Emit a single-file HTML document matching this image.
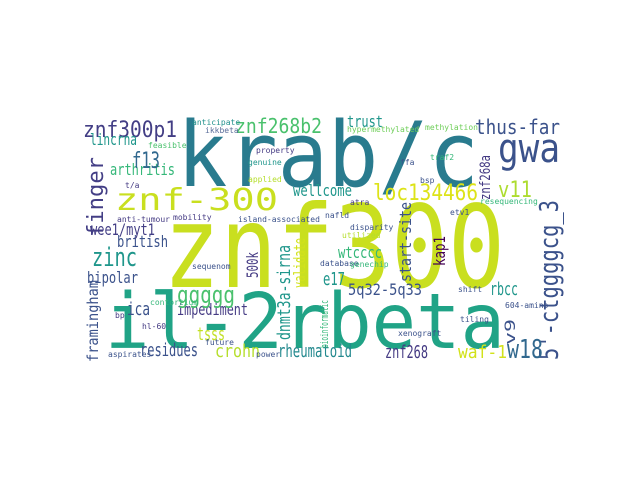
<!DOCTYPE html>
<html><head><meta charset="utf-8"><style>
html,body{margin:0;padding:0;background:#fff;width:640px;height:480px;overflow:hidden}
svg text{font-family:"DejaVu Sans Mono","Liberation Mono",monospace}
</style></head><body>
<svg width="640" height="480" viewBox="0 0 640 480" xmlns="http://www.w3.org/2000/svg">
<rect width="640" height="480" fill="#fff"/>
<g>
<text x="177" y="186" font-size="90" fill="#297b8e" textLength="302" lengthAdjust="spacingAndGlyphs">krab/c</text>
<text x="163" y="287" font-size="114" fill="#c9df1f" textLength="342" lengthAdjust="spacingAndGlyphs">znf300</text>
<text x="105" y="348" font-size="77" fill="#20a386" textLength="400" lengthAdjust="spacingAndGlyphs">il-2rbeta</text>
<text x="115" y="210" font-size="30" fill="#c9df1f" textLength="163" lengthAdjust="spacingAndGlyphs">znf-300</text>
<text x="498" y="162" font-size="40" fill="#3b528b" textLength="62" lengthAdjust="spacingAndGlyphs">gwa</text>
<text x="475" y="134" font-size="20" fill="#3b528b" textLength="85" lengthAdjust="spacingAndGlyphs">thus-far</text>
<text x="83" y="137" font-size="22" fill="#433e85" textLength="94" lengthAdjust="spacingAndGlyphs">znf300p1</text>
<text x="235" y="133" font-size="20" fill="#4ac16d" textLength="87" lengthAdjust="spacingAndGlyphs">znf268b2</text>
<text x="373" y="200" font-size="22" fill="#dde318" textLength="105" lengthAdjust="spacingAndGlyphs">loc134466</text>
<text x="498" y="197" font-size="22" fill="#addc30" textLength="34" lengthAdjust="spacingAndGlyphs">v11</text>
<text transform="translate(558,360) rotate(-90)" font-size="26" fill="#3b528b" textLength="160" lengthAdjust="spacingAndGlyphs">5'-ctggggcg_3</text>
<text x="507" y="358" font-size="26" fill="#31688e" textLength="36" lengthAdjust="spacingAndGlyphs">w18</text>
<text x="458" y="358" font-size="18" fill="#d2e21b" textLength="49" lengthAdjust="spacingAndGlyphs">waf-1</text>
<text x="385" y="358" font-size="18" fill="#443a83" textLength="43" lengthAdjust="spacingAndGlyphs">znf268</text>
<text x="278" y="357" font-size="18" fill="#23898e" textLength="74" lengthAdjust="spacingAndGlyphs">rheumatoid</text>
<text x="215" y="357" font-size="18" fill="#b5de2b" textLength="45" lengthAdjust="spacingAndGlyphs">crohn</text>
<text x="140" y="356" font-size="18" fill="#3b528b" textLength="58" lengthAdjust="spacingAndGlyphs">residues</text>
<text x="197" y="340" font-size="18" fill="#c2df23" textLength="28" lengthAdjust="spacingAndGlyphs">tsss</text>
<text x="177" y="315" font-size="16" fill="#443a83" textLength="71" lengthAdjust="spacingAndGlyphs">impediment</text>
<text x="177" y="303" font-size="24" fill="#4ac16d" textLength="58" lengthAdjust="spacingAndGlyphs">ggggg</text>
<text x="127" y="315" font-size="18" fill="#3b528b" textLength="23" lengthAdjust="spacingAndGlyphs">ica</text>
<text x="87" y="283" font-size="16" fill="#3b528b" textLength="51" lengthAdjust="spacingAndGlyphs">bipolar</text>
<text x="92" y="266" font-size="26" fill="#1f968b" textLength="45" lengthAdjust="spacingAndGlyphs">zinc</text>
<text x="117" y="247" font-size="16" fill="#3b528b" textLength="51" lengthAdjust="spacingAndGlyphs">british</text>
<text x="90" y="235" font-size="16" fill="#433e85" textLength="65" lengthAdjust="spacingAndGlyphs">wee1/myt1</text>
<text x="110" y="175" font-size="16" fill="#35b779" textLength="65" lengthAdjust="spacingAndGlyphs">arthritis</text>
<text x="132" y="168" font-size="22" fill="#31688e" textLength="28" lengthAdjust="spacingAndGlyphs">f13</text>
<text x="90" y="145" font-size="16" fill="#1f968b" textLength="47" lengthAdjust="spacingAndGlyphs">lincrna</text>
<text transform="translate(103,237) rotate(-90)" font-size="22" fill="#433e85" textLength="80" lengthAdjust="spacingAndGlyphs">finger</text>
<text transform="translate(98,362) rotate(-90)" font-size="15" fill="#3b528b" textLength="82" lengthAdjust="spacingAndGlyphs">framingham</text>
<text x="347" y="127" font-size="16" fill="#1f968b" textLength="36" lengthAdjust="spacingAndGlyphs">trust</text>
<text x="293" y="196" font-size="16" fill="#1f968b" textLength="59" lengthAdjust="spacingAndGlyphs">wellcome</text>
<text transform="translate(490,200) rotate(-90)" font-size="14" fill="#443a83" textLength="45" lengthAdjust="spacingAndGlyphs">znf268a</text>
<text transform="translate(411,282) rotate(-90)" font-size="16" fill="#3b528b" textLength="80" lengthAdjust="spacingAndGlyphs">start-site</text>
<text transform="translate(445,266) rotate(-90)" font-size="16" fill="#440154" textLength="30" lengthAdjust="spacingAndGlyphs">kap1</text>
<text transform="translate(290,340) rotate(-90)" font-size="18" fill="#1f968b" textLength="95" lengthAdjust="spacingAndGlyphs">dnmt3a-sirna</text>
<text transform="translate(305,288) rotate(-90)" font-size="16" fill="#d2e21b" textLength="50" lengthAdjust="spacingAndGlyphs">validate</text>
<text transform="translate(258,278) rotate(-90)" font-size="16" fill="#443a83" textLength="26" lengthAdjust="spacingAndGlyphs">500k</text>
<text x="348" y="295" font-size="16" fill="#3b528b" textLength="74" lengthAdjust="spacingAndGlyphs">5q32-5q33</text>
<text x="490" y="295" font-size="18" fill="#1f968b" textLength="28" lengthAdjust="spacingAndGlyphs">rbcc</text>
<text x="338" y="258" font-size="16" fill="#35b779" textLength="44" lengthAdjust="spacingAndGlyphs">wtcccc</text>
<text x="323" y="285" font-size="18" fill="#1f968b" textLength="22" lengthAdjust="spacingAndGlyphs">e17</text>
<text transform="translate(515,345) rotate(-90)" font-size="14" fill="#3b528b" textLength="26" lengthAdjust="spacingAndGlyphs">v9</text>
<text transform="translate(328,348) rotate(-90)" font-size="11" fill="#35b779" textLength="48" lengthAdjust="spacingAndGlyphs">bioinformatic</text>
</g>
<g font-size="8" fill="#5a6d9a">
<text x="192" y="125" fill="#21918c">anticipate</text>
<text x="205" y="133">ikkbeta</text>
<text x="148" y="148" fill="#4ac16d">feasible</text>
<text x="256" y="153" fill="#443a83">property</text>
<text x="248" y="165" fill="#1f968b">genuine</text>
<text x="248" y="182" fill="#b5de2b">applied</text>
<text x="125" y="188" fill="#443a83">t/a</text>
<text x="173" y="220" fill="#443a83">mobility</text>
<text x="238" y="222" fill="#3b528b">island-associated</text>
<text x="117" y="222" fill="#443a83">anti-tumour</text>
<text x="347" y="132" fill="#6ece58">hypermethylated</text>
<text x="425" y="130" fill="#6ece58">methylation</text>
<text x="420" y="183" fill="#3b528b">bsp</text>
<text x="400" y="165" fill="#3b528b">ffa</text>
<text x="430" y="160" fill="#35b779">traf2</text>
<text x="350" y="205" fill="#443a83">atra</text>
<text x="480" y="204" fill="#35b779">resequencing</text>
<text x="450" y="215" fill="#3b528b">etv1</text>
<text x="350" y="230" fill="#3b528b">disparity</text>
<text x="342" y="238" fill="#b5de2b">utilized</text>
<text x="325" y="218" fill="#3b528b">nafld</text>
<text x="320" y="266" fill="#3b528b">database</text>
<text x="350" y="267" fill="#35b779">genechip</text>
<text x="458" y="292" fill="#3b528b">shift</text>
<text x="505" y="308" fill="#3b528b">604-amino</text>
<text x="460" y="322" fill="#3b528b">tiling</text>
<text x="398" y="336" fill="#3b528b">xenograft</text>
<text x="150" y="305" fill="#35b779">contortium</text>
<text x="192" y="269" fill="#3b528b">sequenom</text>
<text x="142" y="329" fill="#443a83">hl-60</text>
<text x="108" y="357" fill="#3b528b">aspirates</text>
<text x="205" y="345" fill="#3b528b">future</text>
<text x="256" y="357" fill="#3b528b">power</text>
<text x="115" y="318" fill="#443a83">bp</text>
</g>
</svg>
</body></html>
